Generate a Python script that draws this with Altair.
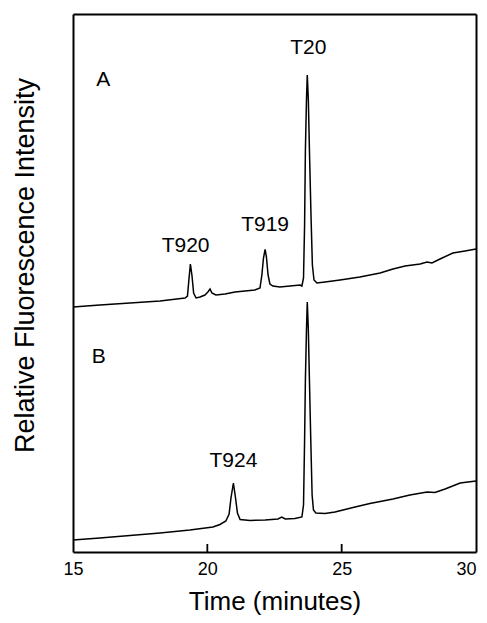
import altair as alt
import pandas as pd

# Trace A (upper electropherogram): time in minutes, relative intensity (arbitrary units)
time_a = [15.00, 16.00, 17.12, 18.24, 19.17, 19.26, 19.32, 19.37, 19.43, 19.49, 19.58, 19.73,
          19.91, 20.02, 20.10, 20.17, 20.32, 20.66, 21.03, 21.40, 21.77, 21.96, 22.03, 22.09,
          22.15, 22.20, 22.26, 22.33, 22.44, 22.70, 23.08, 23.45, 23.52, 23.58, 23.62, 23.65,
          23.69, 23.72, 23.76, 23.80, 23.86, 23.91, 23.97, 24.08, 24.38, 24.94, 25.68, 26.43,
          26.91, 27.36, 27.92, 28.18, 28.36, 28.66, 29.14, 29.59, 30.00]
int_a = [245, 247, 249, 251, 254, 256, 274, 288, 276, 259, 254, 255,
         257, 260, 263, 259, 257, 258, 260, 261, 262, 264, 277, 294,
         302.5, 295, 277, 268, 266, 265, 266, 267, 266, 274, 327, 402,
         452, 477, 452, 402, 335, 287, 272, 269, 270, 272, 275, 279,
         283, 286, 288, 290, 289, 293, 299, 301, 303]

# Trace B (lower electropherogram)
time_b = [15.00, 16.00, 17.12, 18.24, 19.35, 20.21, 20.47, 20.69, 20.81, 20.88, 20.97, 21.05,
          21.12, 21.22, 21.59, 22.15, 22.63, 22.77, 22.90, 23.26, 23.52, 23.58, 23.62, 23.65,
          23.69, 23.72, 23.76, 23.80, 23.85, 23.90, 23.95, 24.04, 24.38, 24.75, 25.05, 25.50,
          26.05, 26.91, 27.54, 28.18, 28.47, 28.85, 29.41, 30.00]
int_b = [12, 14, 16.5, 19, 22, 25, 27.5, 31, 38, 54, 69, 54,
         39, 32.5, 31.5, 32, 33, 35, 33, 33.5, 35, 47, 112, 172,
         222, 250, 222, 172, 112, 57, 42, 39, 38.5, 40, 42, 45,
         48.5, 53, 57, 60, 59.5, 63, 69, 71]

# Annotations
label_text = ["A", "B", "T20", "T919", "T920", "T924"]
label_time = [16.13, 15.96, 23.76, 22.15, 19.19, 20.97]
label_int = [472, 195, 504, 327, 306, 91.5]

tick_values = [15, 20, 25, 30]
inner_ticks = [20, 25]

FONT = "Liberation Sans"

df = pd.concat([
    pd.DataFrame({"time": time_a, "intensity": int_a, "trace": "A"}),
    pd.DataFrame({"time": time_b, "intensity": int_b, "trace": "B"}),
])
labels = pd.DataFrame({"text": label_text, "time": label_time, "intensity": label_int})
ticks = pd.DataFrame({"time": inner_ticks})

xscale = alt.Scale(domain=[15, 30], nice=False, zero=False)
yscale = alt.Scale(domain=[0, 538], nice=False, zero=False)

lines = alt.Chart(df).mark_line(color="black", strokeWidth=1.5).encode(
    x=alt.X("time:Q", scale=xscale,
            axis=alt.Axis(title="Time (minutes)", values=tick_values, format="d",
                          labelFontSize=18, labelFont=FONT, labelColor="black",
                          labelPadding=8, labelFlush=False, ticks=False,
                          domain=True, domainColor="black", domainWidth=2,
                          labelAlign=alt.ExprRef("datum.value == 30 ? 'right' : 'center'"),
                          grid=False, titleFontSize=26, titleFont=FONT,
                          titleFontWeight="normal", titleColor="black",
                          titleY=57, titleBaseline="alphabetic")),
    y=alt.Y("intensity:Q", scale=yscale,
            axis=alt.Axis(title="Relative Fluorescence Intensity", labels=False,
                          ticks=False, domain=True, domainColor="black", domainWidth=2,
                          grid=False, titleFontSize=27,
                          titleFont=FONT, titleFontWeight="normal", titleColor="black",
                          titleX=-40, titleY=251, titleBaseline="alphabetic")),
    detail="trace:N",
)

frame_axis = dict(labels=False, ticks=False, grid=False, title=None,
                  domain=True, domainColor="black", domainWidth=2)

text = alt.Chart(labels).mark_text(fontSize=21, font=FONT, color="black",
                                   align="center", baseline="middle").encode(
    x=alt.X("time:Q", scale=xscale, axis=alt.Axis(orient="top", **frame_axis)),
    y=alt.Y("intensity:Q", scale=yscale, axis=alt.Axis(orient="right", **frame_axis)),
    text="text:N",
)

tick_marks = alt.Chart(ticks).mark_rule(color="black", strokeWidth=1.8).encode(
    x=alt.X("time:Q", scale=xscale, axis=None),
    y=alt.Y(datum=0, scale=yscale, axis=None),
    y2=alt.Y2(datum=8),
)

chart = alt.layer(lines, text, tick_marks).resolve_axis(
    x="independent", y="independent"
).properties(
    width=403, height=538,
    autosize=alt.AutoSizeParams(type="none"),
    padding={"left": 65, "top": 6, "right": 3, "bottom": 63},
).configure(background="white").configure_view(stroke=None)

chart.save("out.html", embed_options={"renderer": "svg", "actions": False})
